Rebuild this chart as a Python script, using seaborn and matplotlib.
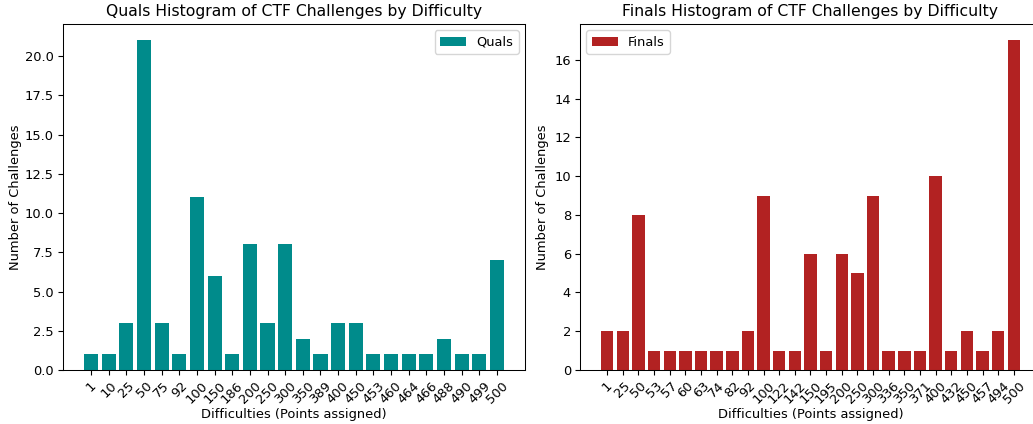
import matplotlib
matplotlib.use("Agg")
import matplotlib.pyplot as plt
import seaborn as sns
import pandas as pd

# Quals data
quals_points = [1, 10, 25, 50, 75, 92, 100, 150, 186, 200, 250, 300, 350, 389,
                400, 450, 453, 460, 464, 466, 488, 490, 499, 500]
quals_counts = [1, 1, 3, 21, 3, 1, 11, 6, 1, 8, 3, 8, 2, 1,
                3, 3, 1, 1, 1, 1, 2, 1, 1, 7]

# Finals data
finals_points = [1, 25, 50, 53, 57, 60, 63, 74, 82, 92, 100, 122, 142, 150, 195,
                 200, 250, 300, 336, 350, 371, 400, 432, 450, 457, 494, 500]
finals_counts = [2, 2, 8, 1, 1, 1, 1, 1, 1, 2, 9, 1, 1, 6, 1,
                 6, 5, 9, 1, 1, 1, 10, 1, 2, 1, 2, 17]

df_q = pd.DataFrame({"Points": [str(p) for p in quals_points], "Count": quals_counts})
df_f = pd.DataFrame({"Points": [str(p) for p in finals_points], "Count": finals_counts})

# a imagem original parece reduzida (~0.935), então fontes um pouco menores
esc = 0.935
plt.rcParams.update({
    "font.size": 10 * esc,
    "xtick.major.size": 3.5 * esc,
    "ytick.major.size": 3.5 * esc,
    "xtick.major.pad": 3.5 * esc,
    "ytick.major.pad": 3.5 * esc,
    "axes.linewidth": 0.8 * esc,
})

W, H = 1033, 424
fig = plt.figure(figsize=(W / 100, H / 100), dpi=100)

# Posições dos eixos em pixels (a figura original está recortada à direita)
ax1 = fig.add_axes([63 / W, 54 / H, 462 / W, 346 / H])
ax2 = fig.add_axes([580 / W, 54 / H, 461 / W, 346 / H])

panels = [
    (ax1, df_q, "darkcyan", "Quals", "upper right", 2),
    (ax2, df_f, "firebrick", "Finals", "upper left", 4),
]

for ax, df, cor, nome, loc, pad in panels:
    sns.barplot(data=df, x="Points", y="Count", color=cor, saturation=1,
                width=0.8, label=nome, ax=ax)
    # margens padrão do matplotlib no eixo x
    ax.autoscale(enable=True, axis="x")
    ax.margins(x=0.05)
    ax.set_title(f"{nome} Histogram of CTF Challenges by Difficulty", fontsize=12 * esc)
    ax.set_xlabel("Difficulties (Points assigned)", labelpad=1.5)
    ax.set_ylabel("Number of Challenges", labelpad=pad)
    ax.tick_params(axis="x", rotation=45)
    ax.legend(loc=loc)

plt.savefig("out.png")
